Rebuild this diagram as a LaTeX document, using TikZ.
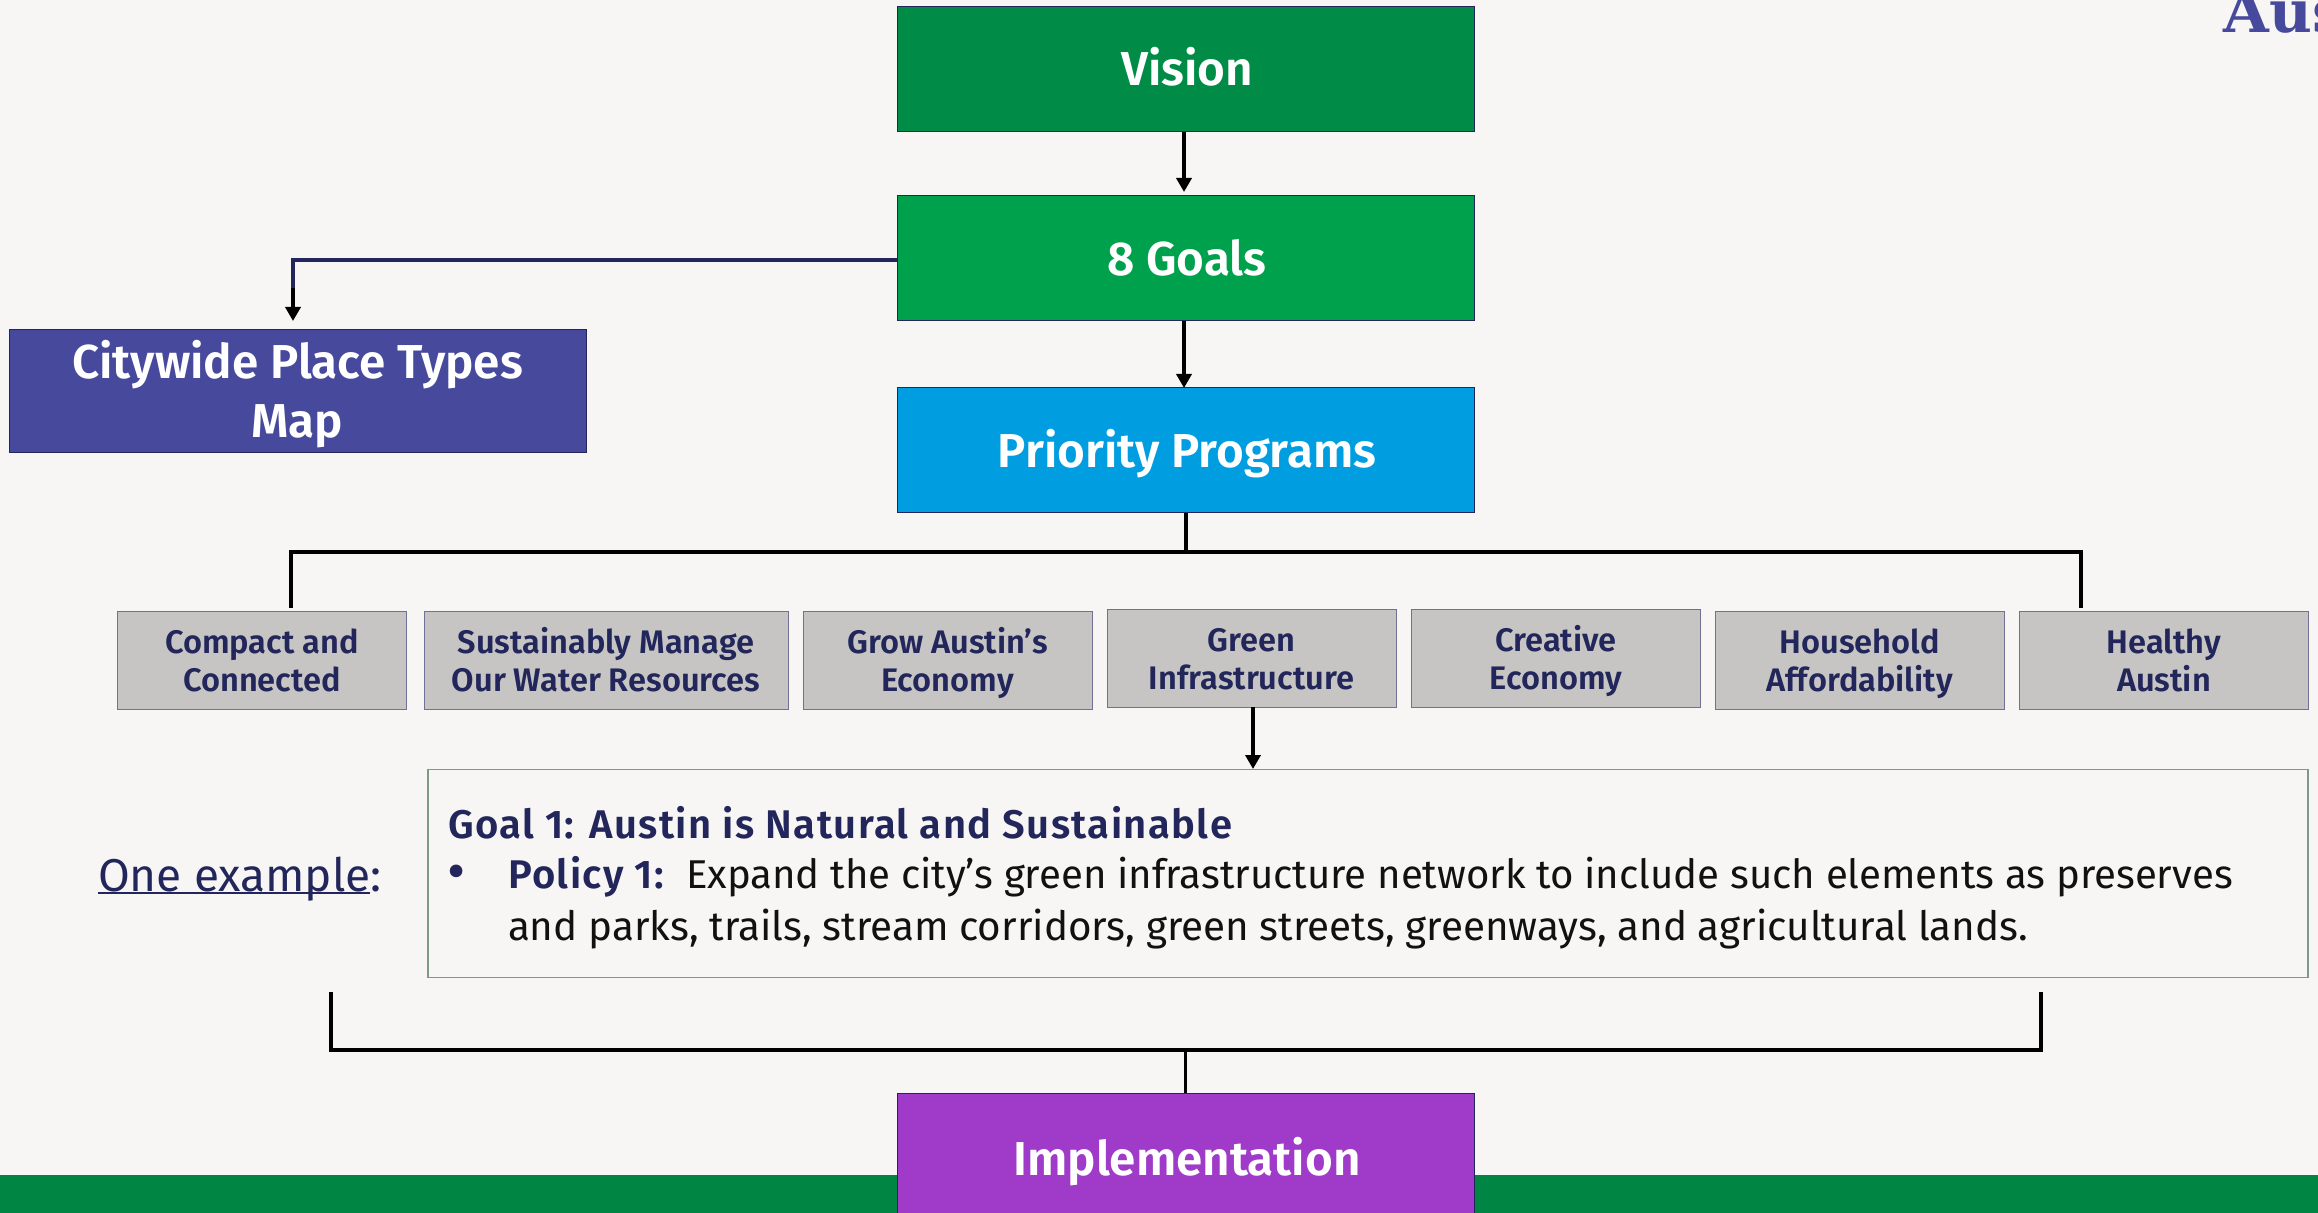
\documentclass[tikz,border=0pt]{standalone}
\usepackage{fontspec}
\setmainfont{Fira Sans}[BoldFont={Fira Sans SemiBold}]
\newfontfamily\slab{DejaVu Serif}
\usetikzlibrary{arrows.meta}
\definecolor{bgc}{HTML}{F7F6F4}
\definecolor{visionc}{HTML}{008C47}
\definecolor{goalsc}{HTML}{00A14D}
\definecolor{prioc}{HTML}{009EE0}
\definecolor{cityc}{HTML}{474A9C}
\definecolor{implc}{HTML}{9F3BC8}
\definecolor{grayc}{HTML}{C6C5C3}
\definecolor{navyc}{HTML}{22265A}
\definecolor{bandc}{HTML}{008542}
\definecolor{sageb}{HTML}{7C9A86}
\definecolor{inkc}{HTML}{111111}
\newcommand{\lowline}[1]{\setbox0=\hbox{#1}\rlap{\rule[-1.4pt]{\wd0}{0.7pt}}\box0}
\newcommand{\twolines}[2]{\rule{0pt}{16pt}#1\\\vphantom{y}#2}
\newcommand{\wide}{\addfontfeatures{LetterSpace=3.5}}
\tikzset{
  x=0.5pt, y=-0.5pt,
  bigbox/.style={draw=navyc, line width=0.5pt, inner sep=0pt, outer sep=0pt, minimum width=288.5pt, minimum height=62.5pt},
  bigtext/.style={inner sep=0pt, text=white, font=\fontsize{23.8}{29.5}\selectfont\bfseries, align=center},
  progbox/.style={draw=navyc!65, fill=grayc, line width=0.5pt, inner sep=0pt, outer sep=0pt, minimum width=144.5pt, minimum height=48.5pt, text=navyc, font=\fontsize{16.3}{19}\selectfont\bfseries, align=center},
  conn/.style={draw=black, line width=2pt},
  arr/.style={conn, -{Triangle[length=7pt,width=7.5pt]}},
  navytext/.style={inner sep=0pt, outer sep=0pt, text=navyc, anchor=base west},
  bodytext/.style={inner sep=0pt, outer sep=0pt, text=inkc, anchor=base west, font=\fontsize{20.1}{25}\selectfont},
}
\begin{document}
\begin{tikzpicture}
\useasboundingbox (0,0) rectangle (2318,1213);
\begin{scope}
\clip (0,0) rectangle (2318,1213);
\fill[bgc] (0,0) rectangle (2318,1213);
\fill[bandc] (0,1175) rectangle (2318,1213);
\node[inner sep=0pt, anchor=base west, text=cityc, font=\slab\fontsize{29.5}{30}\selectfont\bfseries] (aus) at (2223,33) {Aus};
\node[bigbox, fill=implc, minimum height=90pt] (impl) at (1185.5,1183) {};
\node[bigtext, anchor=base] (impltext) at (1187,1175) {Implementation};
\end{scope}
\node[bigbox, fill=visionc] (vision) at (1185.5,69.5) {};
\node[bigtext, anchor=base] (visiontext) at (1187,86) {Vision};
\node[bigbox, fill=goalsc] (goals) at (1185.5,258.5) {};
\node[bigtext, anchor=base] (goalstext) at (1187,276) {8 Goals};
\node[bigbox, fill=prioc] (prio) at (1185.5,450.5) {};
\node[bigtext, anchor=base] (priotext) at (1187,468) {Priority Programs};
\node[bigbox, fill=cityc, minimum height=61.5pt] (city) at (297.5,391) {};
\node[bigtext] (citytext) at (297.5,394) {Citywide Place Types\\Map};

\node[progbox] (p1) at (262,660.5) {\twolines{Compact and}{Connected}};
\node[progbox, minimum width=182pt] (p2) at (606,660.5) {\twolines{Sustainably Manage}{Our Water Resources}};
\node[progbox] (p3) at (947.5,660.5) {\twolines{Grow Austin’s}{Economy}};
\node[progbox] (p4) at (1251.5,658.5) {\twolines{Green}{Infrastructure}};
\node[progbox] (p5) at (1556,658.5) {\twolines{Creative}{Economy}};
\node[progbox] (p6) at (1859.5,660.5) {\twolines{Household}{Affordability}};
\node[progbox] (p7) at (2164,660.5) {\twolines{Healthy}{Austin}};

\node[draw=sageb, line width=0.6pt, inner sep=0pt, outer sep=0pt, minimum width=940pt, minimum height=104pt] (goalbox) at (1368,873.5) {};
\node[navytext, font=\fontsize{20}{25}\selectfont\bfseries\wide] (goaltitle) at (448,838.5) {Goal 1: Austin is Natural and Sustainable};
\node[navytext, font=\fontsize{28}{28}\selectfont] (bullet) at (447,890) {•};
\node[navytext, font=\fontsize{20}{25}\selectfont\bfseries\wide] (policy) at (508,888.5) {Policy 1:};
\node[bodytext] (line1) at (686,888.5) {Expand the city’s green infrastructure network to include such elements as preserves};
\node[bodytext, font=\fontsize{20.2}{25}\selectfont] (line2) at (508,940) {and parks, trails, stream corridors, green streets, greenways, and agricultural lands.};
\node[navytext, font=\fontsize{23}{25}\selectfont] (oneex) at (98,891) {\lowline{One example}:};

\coordinate (citytip) at (293,321);
\coordinate (cityelbow) at (293,260);
\coordinate (goalsw) at (897,260);
\draw[arr] (vision.south -| 1184,0) -- (1184,192);
\draw[arr] (goals.south -| 1184,0) -- (prio.north -| 1184,0);
\draw[conn, draw=navyc] (goalsw) -- (cityelbow) -- ++(0,30);
\draw[arr] (293,288) -- (citytip);
\coordinate (busc) at (1185.5,552.5);
\coordinate (busl) at (291,552.5);
\coordinate (busr) at (2081,552.5);
\coordinate (legl) at (291,608);
\coordinate (legr) at (2081,608);
\draw[conn] (prio.south) -- (busc);
\draw[conn] (legl) -- (busl) -- (busr) -- (legr);
\draw[arr] (p4.south -| 1253,0) -- (1253,769);
\coordinate (brl) at (331,992);
\coordinate (brlc) at (331,1049.5);
\coordinate (brr) at (2041,992);
\coordinate (brrc) at (2041,1049.5);
\coordinate (brc) at (1185.5,1049.5);
\draw[conn] (brl) -- (brlc) -- (brrc) -- (brr);
\draw[conn, line width=1.8pt] (brc) -- (impl.north -| brc);
\end{tikzpicture}
\end{document}
